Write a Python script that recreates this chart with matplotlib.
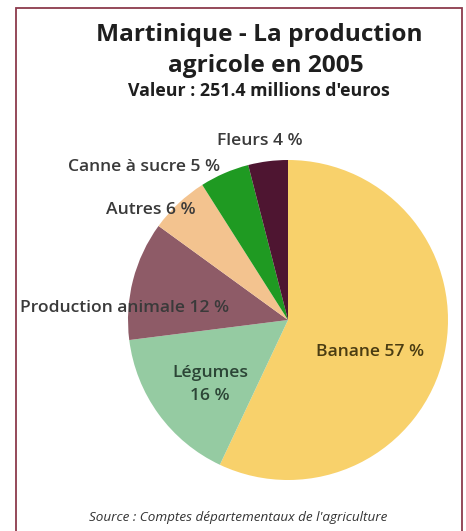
import matplotlib
matplotlib.use("Agg")
import matplotlib.pyplot as plt

# Agricultural production shares, Martinique 2005
categories = ["Banane", "Légumes", "Production animale", "Autres", "Canne à sucre", "Fleurs"]
shares = [57, 16, 12, 6, 5, 4]
colors = ["#F8D16B", "#95CBA2", "#8E5B67", "#F3C38F", "#1F9A22", "#4E1531"]

title_lines = ["Martinique - La production", "agricole en 2005"]
subtitle = "Valeur : 251.4 millions d'euros"
source = "Source : Comptes départementaux de l'agriculture"

W, H = 466, 531
plt.rcParams["font.family"] = ["Open Sans", "DejaVu Sans"]

fig = plt.figure(figsize=(W / 100, H / 100), dpi=100)
ax = fig.add_axes([0, 0, 1, 1])


def y(py):
    """Convert a top-down pixel row to data coordinates."""
    return H - py


# Pie, clockwise from 12 o'clock
ax.pie(shares, colors=colors, startangle=90, counterclock=False,
       center=(288, y(320)), radius=160, frame=True,
       wedgeprops=dict(linewidth=0))
ax.set_xlim(0, W)
ax.set_ylim(0, H)
ax.set_aspect("equal")
ax.axis("off")

# Frame (open at the bottom edge)
ax.plot([16, 16, 462, 462], [0, y(8), y(8), 0], color="#8C3A4C", lw=1.3,
        solid_joinstyle="miter")

# Titles
ax.text(259, y(35), title_lines[0], ha="center", va="center",
        fontsize=17.6, fontweight="bold", color="#1e1e1e")
ax.text(266, y(66), title_lines[1], ha="center", va="center",
        fontsize=17.6, fontweight="bold", color="#1e1e1e")
ax.text(259, y(91), subtitle, ha="center", va="center",
        fontsize=12.8, fontweight="bold", color="#1e1e1e")

# Slice labels
label_fmt = "{} {} %"
txt = dict(fontsize=12.6, color="#3a3a3a", va="center", ha="center",
           fontweight="semibold")
ax.text(370, y(352), label_fmt.format(categories[0], shares[0]),
        **{**txt, "color": "#4a3c12"})
ax.text(210, y(373), categories[1], **{**txt, "color": "#2c4536"})
ax.text(210, y(396), f"{shares[1]} %", **{**txt, "color": "#2c4536"})
ax.text(125, y(308), label_fmt.format(categories[2], shares[2]), **txt)
ax.text(151, y(210), label_fmt.format(categories[3], shares[3]), **txt)
ax.text(144, y(167), label_fmt.format(categories[4], shares[4]), **txt)
ax.text(260, y(141), label_fmt.format(categories[5], shares[5]), **txt)

# Source note
ax.text(238, y(518), source, ha="center", va="center", fontsize=9.7,
        style="italic", color="#333333")

fig.savefig("out.png", dpi=100, facecolor="white")
